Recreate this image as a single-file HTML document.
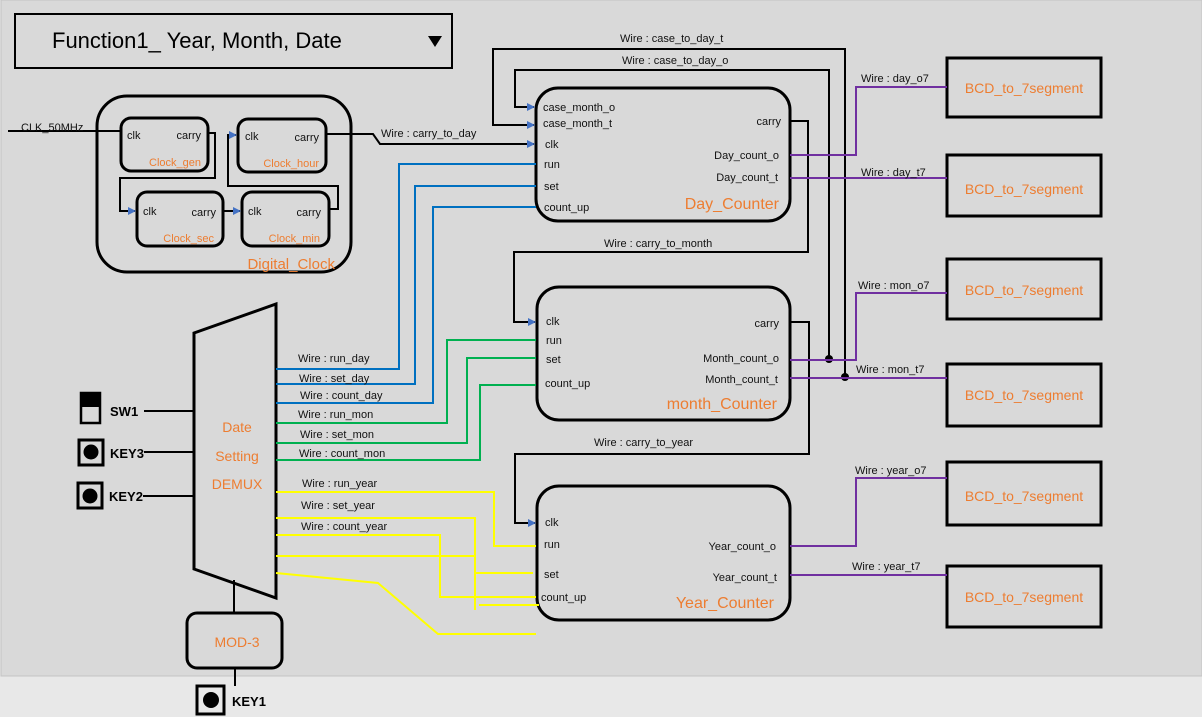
<!DOCTYPE html>
<html><head><meta charset="utf-8"><style>
html,body{margin:0;padding:0;width:1202px;height:717px;overflow:hidden;background:#e8e8e8}
svg{display:block}
text{font-family:"Liberation Sans",sans-serif}
.s{font-size:11px;fill:#111}
.o{fill:#ed7d31}
</style></head><body>
<svg width="1202" height="717" viewBox="0 0 1202 717">
<defs><marker id="a" markerWidth="8" markerHeight="8" refX="7" refY="4" orient="auto" markerUnits="userSpaceOnUse"><path d="M0,0 L8,4 L0,8 z" fill="#4472c4"/></marker></defs>
<rect x="1" y="0" width="1201" height="676" fill="#d9d9d9" stroke="#c4c4c4"/>
<!-- title -->
<rect x="15" y="14" width="437" height="54" fill="none" stroke="#000" stroke-width="2"/>
<text x="52" y="48" font-size="22" fill="#000">Function1_ Year, Month, Date</text>
<path d="M428,36 L442,36 L435,47 z" fill="#000"/>
<g fill="none" stroke="#000" stroke-width="3">
<rect x="97" y="96" width="254" height="176" rx="30"/>
<rect x="121" y="118" width="87" height="53" rx="10"/>
<rect x="238" y="119" width="88" height="53" rx="10"/>
<rect x="137" y="192" width="86" height="54" rx="10"/>
<rect x="242" y="192" width="87" height="54" rx="10"/>
<rect x="536" y="88" width="254" height="133" rx="22"/>
<rect x="537" y="287" width="253" height="133" rx="22"/>
<rect x="537" y="486" width="253" height="134" rx="22"/>
<rect x="947" y="58" width="154" height="59"/>
<rect x="947" y="155" width="154" height="61"/>
<rect x="947" y="259" width="154" height="60"/>
<rect x="947" y="364" width="154" height="62"/>
<rect x="947" y="462" width="154" height="63"/>
<rect x="947" y="566" width="154" height="61"/>
<polygon points="194,333 276,304 276,598 194,569"/>
<rect x="187" y="613" width="95" height="55" rx="10"/>
<rect x="79" y="440" width="24" height="25"/>
<rect x="78" y="483" width="24" height="25"/>
<rect x="197" y="686" width="27" height="28"/>
<rect x="81" y="393" width="19" height="30" stroke-width="2.5"/>
</g>
<rect x="81" y="393" width="19" height="14" fill="#000"/>
<circle cx="91" cy="452" r="7.5" fill="#000"/>
<circle cx="90" cy="496" r="7.5" fill="#000"/>
<circle cx="211" cy="700" r="8" fill="#000"/>
<!-- black wires -->
<g fill="none" stroke="#000" stroke-width="2">
<path d="M8,131 L121,131"/>
<path d="M208,133 L215,133 L215,178 L120,178 L120,211 L135,211" marker-end="url(#a)"/>
<path d="M223,211 L240,211" marker-end="url(#a)"/>
<path d="M329,209 L338,209 L338,186 L228,186 L228,135 L236,135" marker-end="url(#a)"/>
<path d="M326,134 L373,134 L380,144 L534,144" marker-end="url(#a)"/>
<path d="M845,377 L845,49 L493,49 L493,125 L534,125" marker-end="url(#a)"/>
<path d="M829,359 L829,70 L515,70 L515,107 L534,107" marker-end="url(#a)"/>
<path d="M790,121 L808,121 L808,252 L514,252 L514,322 L535,322" marker-end="url(#a)"/>
<path d="M790,322 L809,322 L809,454 L515,454 L515,523 L535,523" marker-end="url(#a)"/>
<path d="M144,411 L194,411 M144,452 L194,452 M143,496 L194,496 M234,580 L234,614 M235,669 L235,686"/>
</g>
<circle cx="829" cy="359" r="4" fill="#000"/>
<circle cx="845" cy="377" r="4" fill="#000"/>
<!-- purple -->
<g fill="none" stroke="#7030a0" stroke-width="2">
<path d="M790,155 L856,155 L856,87 L947,87"/>
<path d="M790,178 L947,178"/>
<path d="M790,360 L856,360 L856,293 L947,293"/>
<path d="M790,378 L947,378"/>
<path d="M790,546 L856,546 L856,478 L947,478"/>
<path d="M790,575 L947,575"/>
</g>
<!-- blue -->
<g fill="none" stroke="#0070c0" stroke-width="2">
<path d="M276,369 L399,369 L399,164 L536,164"/>
<path d="M276,384 L415,384 L415,186 L536,186"/>
<path d="M276,403 L433,403 L433,207 L536,207"/>
</g>
<g fill="none" stroke="#00b050" stroke-width="2">
<path d="M276,423 L447,423 L447,340 L536,340"/>
<path d="M276,443 L467,443 L467,358 L536,358"/>
<path d="M276,460 L480,460 L480,385 L536,385"/>
</g>
<g fill="none" stroke="#ffff00" stroke-width="2">
<path d="M276,492 L494,492 L494,546 L536,546"/>
<path d="M276,518 L475,518 L475,610"/>
<path d="M276,535 L440,535 L440,597 L536,597"/>
<path d="M276,556 L475,556"/>
<path d="M476,573 L533,573"/>
<path d="M479,605 L539,605"/>
<path d="M276,573 L378,583 L438,634 L536,634"/>
</g>
<!-- clock texts -->
<text x="21" y="131" class="s">CLK_50MHz</text>
<g class="s">
<text x="127" y="139">clk</text><text x="201" y="139" text-anchor="end">carry</text>
<text x="245" y="140">clk</text><text x="319" y="141" text-anchor="end">carry</text>
<text x="143" y="215">clk</text><text x="216" y="216" text-anchor="end">carry</text>
<text x="248" y="215">clk</text><text x="321" y="216" text-anchor="end">carry</text>
</g>
<g class="o" font-size="11">
<text x="201" y="166" text-anchor="end">Clock_gen</text>
<text x="319" y="167" text-anchor="end">Clock_hour</text>
<text x="214" y="242" text-anchor="end">Clock_sec</text>
<text x="320" y="242" text-anchor="end">Clock_min</text>
</g>
<text x="335" y="269" class="o" font-size="15" text-anchor="end">Digital_Clock</text>
<text x="381" y="137" class="s">Wire : carry_to_day</text>
<!-- counters -->
<g class="s">
<text x="543" y="111">case_month_o</text><text x="543" y="127">case_month_t</text>
<text x="545" y="148">clk</text><text x="544" y="168">run</text><text x="544" y="190">set</text><text x="544" y="211">count_up</text>
<text x="781" y="125" text-anchor="end">carry</text>
<text x="779" y="159" text-anchor="end">Day_count_o</text><text x="778" y="181" text-anchor="end">Day_count_t</text>
<text x="546" y="325">clk</text><text x="546" y="344">run</text><text x="546" y="363">set</text><text x="545" y="387">count_up</text>
<text x="779" y="327" text-anchor="end">carry</text>
<text x="779" y="362" text-anchor="end">Month_count_o</text><text x="778" y="383" text-anchor="end">Month_count_t</text>
<text x="545" y="526">clk</text><text x="544" y="548">run</text><text x="544" y="578">set</text><text x="541" y="601">count_up</text>
<text x="776" y="550" text-anchor="end">Year_count_o</text><text x="777" y="581" text-anchor="end">Year_count_t</text>
<text x="620" y="42">Wire : case_to_day_t</text>
<text x="622" y="64">Wire : case_to_day_o</text>
<text x="604" y="247">Wire : carry_to_month</text>
<text x="594" y="446">Wire : carry_to_year</text>
<text x="861" y="82">Wire : day_o7</text><text x="861" y="176">Wire : day_t7</text>
<text x="858" y="289">Wire : mon_o7</text><text x="856" y="373">Wire : mon_t7</text>
<text x="855" y="474">Wire : year_o7</text><text x="852" y="570">Wire : year_t7</text>
<text x="298" y="362">Wire : run_day</text><text x="299" y="382">Wire : set_day</text>
<text x="300" y="399">Wire : count_day</text><text x="298" y="418">Wire : run_mon</text>
<text x="300" y="438">Wire : set_mon</text><text x="299" y="457">Wire : count_mon</text>
<text x="302" y="487">Wire : run_year</text><text x="301" y="509">Wire : set_year</text>
<text x="301" y="530">Wire : count_year</text>
</g>
<g class="o" font-size="16">
<text x="779" y="209" text-anchor="end">Day_Counter</text>
<text x="777" y="409" text-anchor="end">month_Counter</text>
<text x="774" y="608" text-anchor="end">Year_Counter</text>
</g>
<g class="o" font-size="14" text-anchor="middle">
<text x="1024" y="93">BCD_to_7segment</text>
<text x="1024" y="194">BCD_to_7segment</text>
<text x="1024" y="295">BCD_to_7segment</text>
<text x="1024" y="400">BCD_to_7segment</text>
<text x="1024" y="501">BCD_to_7segment</text>
<text x="1024" y="602">BCD_to_7segment</text>
<text x="237" y="432">Date</text><text x="237" y="461">Setting</text><text x="237" y="489">DEMUX</text>
<text x="237" y="647">MOD-3</text>
</g>
<g font-size="13" font-weight="bold" fill="#000">
<text x="110" y="416">SW1</text><text x="110" y="458">KEY3</text><text x="109" y="501">KEY2</text><text x="232" y="706">KEY1</text>
</g>
</svg>
</body></html>
